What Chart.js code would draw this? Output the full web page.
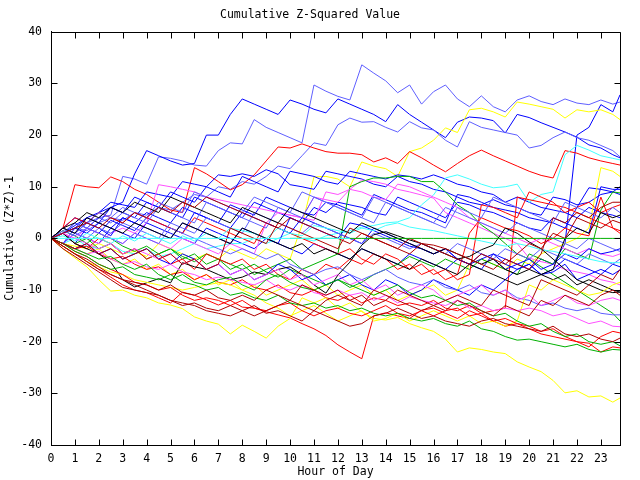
<!DOCTYPE html>
<html>
<head>
<meta charset="utf-8">
<script src="https://cdn.jsdelivr.net/npm/chart.js@4.4.1/dist/chart.umd.min.js"></script>
<style>
  body { margin: 0; background: #fff; }
  canvas { display: block; }
</style>
</head>
<body>
<canvas id="chart" width="640" height="480"></canvas>
<script>
// sample hours (half-hour steps, last one at the right edge)
const hours = [0, 0.5, 1, 1.5, 2, 2.5, 3, 3.5, 4, 4.5, 5, 5.5, 6, 6.5, 7, 7.5, 8, 8.5, 9, 9.5, 10, 10.5, 11, 11.5,
  12, 12.5, 13, 13.5, 14, 14.5, 15, 15.5, 16, 16.5, 17, 17.5, 18, 18.5, 19, 19.5, 20, 20.5, 21, 21.5, 22, 22.5, 23, 23.5, 23.8];
const xTicks = [0, 1, 2, 3, 4, 5, 6, 7, 8, 9, 10, 11, 12, 13, 14, 15, 16, 17, 18, 19, 20, 21, 22, 23];
const yTicks = [-40, -30, -20, -10, 0, 10, 20, 30, 40];

// cumulative (z*z)-1 per run
const cyanFlat = [0, 0, 0, 0, 0, 0, 0, 0,  0, 0, 0, 0, 0, 0, 0, 0,  0, 0, 0, 0, 0, 0, 0, 0,  0, 0, null, null, null, null, null, null,
  null, null, null, null, null, null, null, null,  null, null, null, null, null, null, null, null,  null];
const greenFlat = [null, null, null, null, null, null, null, null,  null, null, null, null, null, null, null, null,
  null, null, null, null, 0, 0, 0, 0,  0, 0, 0, 0, 0, 0, 0, 0,  0, 0, 0, 0, 0, 0, 0, 0,  0, 0, 0, 0, 0, 0, 0, 0,  0];

const darkRed1 = [0, -2, -3.5, -5, -6.5, -8, -9.5, -10,  -10.5, -11, -12, -12.5, -13, -14, -14.5, -15,  -14, -13, -14.5, -14, -15, -16, -14, -15,
  -16, -17, -16.5, -15, -14.5, -13.5, -14.5, -15.5,  -15, -16, -16.5, -17, -16, -15.5, -16.5, -17,  -17.5, -18, -17, -18.5, -19, -18.5, -19.5, -20,  -19.3];
const darkRed2 = [0, -1.5, -3, -4.5, -6, -7, -8, -8.5,  -9, -10, -9, -10.5, -11, -10, -11.5, -12,  -11, -12, -10, -11, -12, -9, -10, -11,
  -10, -12, -11, -13, -12, -10, -11, -12,  -13, -14, -12, -13, -14, -15, -13, -14,  -15, -12, -13, -11, -12, -13, -11, -10,  -11];
const darkRed3 = [0, -1, -2, -1, -3, -2, -4, -3,  -2, -4, -3, -5, -4, -6, -5, 2,  1, 0, -1, 3, 2, 1, 0, -1,
  -2, 2, 1, 0, -1, -2, -3, -1,  -2, -3, -4, -5, -3, -4, -5, -3,  -1, -2, 1, 0, 4, 3, 2, 3.5,  3];
const darkRed4 = [0, -1.5, -3, -4, -5.5, -7, -8, -9,  -10, -11, -12, -13, -12.5, -13.5, -14, -13,  -14, -15, -14, -13, -12, -13, -14, -12,
  -11, -12, -13, -10, -11, -12, -13, -14,  -13, -12, -11, -12, -13, -10, -11, -12,  -13, -8, -9, -10, -11, -9, -7, -8,  -6];
const darkRed5 = [0, 1, 2, 3, 2, 4, 3, 5,  4, 6, 5, 7, 6, 8, 7, 6,  5, 4, 3, 2, 4, 3, 2, 1,
  0, -1, 1, 0, -1, -2, 0, -1,  -1.3, -2, -3, -4, -5, -6, -4, -5,  -6, -3, 4, 3, 5, 4, 6, 7,  7];

const black1 = [0, 1, -1, -2, -3, -4.6, -8, -9.4,  -8.6, -7.8, -8.6, -4.7, -5.5, -6, -7, -8,  -7.5, -6.5, -7, -6, -5.5, -7, -9, -10.6,
  -7.1, -4.6, -1.3, 0.7, 1.3, 0.5, -0.3, -1,  -2, -3, -4, -3.5, -2.2, -1.3, 2, 1,  -0.7, -2, -4, -6, -8, -9, -10, -10.5,  -10.4];
const black2 = [0, 2, 1, 4, 3, 2, 1, 3,  2, 1, 0, 3, 2, 1, 0, -1,  2, 1, 0, -1, -2, -1, -3, -2,
  -3, -4, -2, -3, -4, -5, -6, -4,  -5, -6, -7, -5, -6, -7, -8, -9,  -8, -7, -6, 0, 2, 1, 5, 4,  4.5];
const black3 = [0, 2, 3, 5, 4, 6, 5, 7,  6, 5, 8, 7, 6, 5, 4, 3,  6, 5, 4, 3, 6, 5, 4, 3,
  2, 1, 3, 2, 1, 0, -1, -2,  -3, -2, -3, -4, -5, -4, -6, -7,  -6, -7, -8, -7, -9, -8, -9, -10,  -10.4];

const green1 = [0, -1, -2.5, -3.5, -5, -6, -5.5, -7,  -7.5, -8, -7, -8.5, -9, -10, -9.5, -11,  -10.5, -11.5, -12, -11, -12.5, -13, -12.5, -13.5,
  -13, -14, -13.5, -14.5, -15, -14.5, -15.5, -16,  -15.5, -16.5, -17, -16, -17.5, -18, -19, -19.7,  -19.5, -20, -20.5, -21, -20.5, -21.5, -22, -21.5,  -21.6];
const green2 = [0, 1, -1, 0, -2, -1, -3, -2,  -4, -3, -2, -4, -3, -5, -4, -6,  -5, -7, -6, -5, -4, -6, -5, -4,
  -3, 10, 11, 11.7, 11.7, 12, 12, 11,  11, 9, 6.5, 5, 2.6, 1, -1, -3,  -4, -5.5, -7, -8.5, -10, -11.5, -13, -14.5,  -16];
const green3 = [0, 1.5, 0.5, -1, 1, 0, -1.5, -2.5,  -1.5, -3, -2, -3.5, -4.5, -3, -4, -5,  -6, -5, -6.5, -7.5, -6, -7, -8, -9,
  -8, -9.5, -8.5, -7, -6, -5, -3.5, -4.5,  -5.5, -4, -5, -6, -4, -5, -6, -7,  -3, -4, -5, -2, -3, -4, 5.5, 9,  8.8];
const green4 = [0, -1, -2, -3, -4, -3.5, -5, -6,  -5, -7, -8, -7, -8.5, -9, -8, -7.5,  -9, -10, -8, -7, -8.5, -9.5, -10, -9,
  -8, -9, -10, -11, -10, -9, -10.5, -11.5,  -11, -12, -13, -12.5, -14, -15, -14.5, -16,  -17, -16.5, -18, -19, -18.5, -20, -20.5, -20,  -20.8];

const cyan1 = [0, -1, 0, -1.5, -2, -1, -2.5, -3,  -2, -3.5, -3, -2, -1, -2, -1.5, -1,  -1, 0, -1, 0, 1, 0, -0.5, 0.5,
  1, 1.5, 2.2, 2.5, 3, 3.2, 4, 6.5,  8.4, 11.7, 12.3, 11.5, 10.5, 9.8, 10, 10.5,  7, 8.5, 9, 16.2, 18, 17.1, 16, 15.5,  15.2];
const cyan2 = [0, 0.5, -0.5, 1, 0, -1, 0.5, -0.5,  1, 0, -1, 0.5, -0.5, 1, 0, 2,  1.5, 1, 0, 2, 1, 0.5, 2.5, 2,
  1.5, 1, 2, 1.5, 2.5, 3, 2.2, 1.8,  1.5, 1, 0.5, 0, -0.5, -1, -1.5, -1,  -1.5, -2.2, -2.5, -3, -3.5, -4, -4.5, -4.7,  -4.7];

const magenta1 = [0, -1, 1, 0, -1, 1, 2, 1,  3, 10.4, 10, 9.5, 9, 8, 7.5, 7,  6.5, 6, 5.5, 5, 4.5, 4, 8, 7.5,
  7, 9.5, 11.3, 11, 10.5, 9.5, 9, 8.4,  7.8, 5, 4, 3, 2, 1, 0, -1,  -3.8, -4.5, -5, -6, -6.5, -7, -8, -8.5,  -9];
const magenta2 = [0, -1, -2, -3, -2.5, -4, -5, -4.5,  -5.5, -6, -5, -6.5, -7, -8, -7.5, -8,  -8.5, -9, -8, -9.5, -10, -9, -10.5, -11,
  -10, -11, -10.5, -12, -11, -12.5, -11.3, -12,  -12.5, -13, -12, -13.5, -13, -14, -13.5, -14,  -13.5, -14, -15, -14.5, -15.5, -16.5, -16, -17,  -17.1];
const magenta3 = [0, 1, 0, 2, 1, 0, -1, 1,  0, -1, -2, 0, -1, -2, -3, -1,  -2, -3, 3, 5, 4.5, 4, 3.5, 9,
  8.5, 9.5, 9, 8, 7.5, 10.5, 10, 9,  8, 7, 6, 4, 3, 2, 1, 0,  -1, 0, -1, -2, -3, -2, -3, -3.5,  -3];
const magenta4 = [0, 1, 0, -1, -2, -1, -3, -2,  -3, -4, -3, -5, -4, -6, -5, -7,  -6, -8, -7, -6, -8, -7, -9, -8,
  -7, -9, -8, -10, -9, -11, -10, -9,  -10, -12, -11, -10, -9, -11, -10, -12,  -11, -13, -12, -11, -12.5, -13, -12, -11.5,  -12];

const yellow1 = [0, -1, -1.5, -2, -1, -2, -3, -2.5,  -3.5, -1, -2, -3, -4, -3, -4, -2,  -3, -4, -2, -3, -4, 2.6, 11.9, 12,
  11.5, 10, 14.8, 14, 13.5, 12, 16.8, 17.5,  19, 21.4, 20.5, 24.9, 25.2, 24.5, 23.5, 26.4,  26, 25.5, 25, 23.3, 24.9, 24.5, 24.9, 24,  23];
const yellow2 = [0, -1, -2, -3, -2, -4, -5, -4,  -6, -5, -7, -6, -8, -7, -9, -8,  -10, -9, -11, -10, -9, -8, -10, -9,
  -11, -10, -9, -11, -10, -12, -11, -10,  -9, -11, -10, -5, -4, -5, -6, -4,  -5, -3, -2, -1, 0, 2, 13.7, 13,  12];
const yellow3 = [0, -1.5, -3, -4.5, -5.5, -6.5, -7, -8,  -8.5, -9, -9.5, -10, -9.5, -9, -8.6, -9,  -10, -11, -12.5, -13.5, -15, -14, -13, -14.5,
  -16, -15, -14, -16, -15.5, -14.5, -16, -15,  -14, -15, -16, -15, -16.5, -16, -17, -16,  -9, -10, -8, -9, -10, -11, -10.5, -9,  -8.5];
const yellow4 = [0, -2, -3.8, -5.5, -8, -10.2, -10, -11,  -11.5, -12.5, -12.9, -13.6, -15.2, -16, -16.6, -18.5,  -16.8, -18, -19.3, -17, -15.5, -11.5, -12.5, -11.5,
  -13.5, -12.5, -14.2, -15.5, -15.8, -15.3, -16.5, -17.3,  -18, -19.5, -22, -21.2, -21.5, -22, -22.3, -23.9,  -24.9, -25.8, -27.5, -29.9, -29.5, -30.7, -30.5, -31.7,  -30.9];

const red1 = [0, 2, 10.4, 10, 9.8, 11.9, 11, 9.5,  8.5, 7, 5.5, 5, 13.7, 12.5, 11, 9.4,  10.4, 12.3, 15, 17.7, 17.5, 18.3, 17.5, 16.8,
  16.5, 16.5, 16.2, 14.8, 15.6, 14.5, 16.8, 15.6,  14.2, 12.9, 14.5, 16, 17.1, 16, 15, 14,  13, 12.2, 11.7, 17, 16.5, 15.6, 15, 14.5,  14.2];
const red2 = [0, 1, -1, -2, 0, -1, -3, -2,  -4, -3, -5, -4, -6, -3, -4, -5,  -4, -6, -5, -7, -8, -6, -7, -5,
  -6, -4, -5, -3, -4, -6, -5, -7,  -6, -8, -7, 1, 4, 3, 2, 1.5,  0.5, -1, 0, 2, 1, 0.5, 8, 2,  1];
const red3 = [0, -1, -2, -1.5, -3, -4, -3.5, -5,  -6, -5.5, -7, -6.5, -8, -7, -8.5, -9,  -8, -9.5, -10, -9, -10.5, -11, -10, -11.5,
  -12, -11, -12.5, -11.5, -12, -13, -12.5, -13,  -12, -13.5, -14, -13, -14.5, -14, -13.5, 8,  7.5, 7, 6.5, 6, 5, 4, 3, 2,  1.5];
const red4 = [0, 2, 4, 3, 5, 4, 3, 5,  4, 3, 2, 1, 4, 3, 2, 1,  0, -1, 3, 2, 1, 0, -1, -2,
  -3, -2, -4, -5, -3, -4, -6, -5,  -7, -6, -8, -7, 6.5, 6, 5, 4,  9, 8, 7, 5, 6, 7, 5, 6,  6.5];
const red5 = [0, -1, -2.5, -3.5, -5, -6, -7, -8.5,  -9, -10, -9.5, -11, -12, -11.5, -12, -13,  -12, -13.5, -14, -13, -12.5, -14, -15, -14,
  -13.5, -14.5, -15, -14, -13, -14.5, -15, -14,  -15, -14, -13.5, -15, -14.5, -16, -15.5, -16.5,  -17, -18, -17.5, -19, -20, -21, -19, -18,  -18.3];
const redDip = [0, -1.5, -3, -4.5, -6, -7.5, -9, -10,  -10.5, -11.5, -12.5, -10.4, -11, -11.9, -12.9, -12,  -13.3, -13.5, -14.2, -14.8, -15.4, -16.5, -17.5, -18.8,
  -20.6, -22, -23.3, -15, -14.4, -15, -15.5, -13.9,  -13.5, -14.5, -15.5, -14, -15, -16, -17, -16.5,  -17.5, -18.5, -19, -19.5, -20, -20.3, -22, -21,  -21.2];

const blue1 = [0, 1, 2.5, 4, 5, 6, 7, 12.5,  17, 16, 15, 14.2, 14.5, 20, 20, 24,  27, 26, 25, 24, 26.8, 26, 25, 24.3,
  27, 26, 25, 24, 22.6, 25.9, 24, 22.5,  21, 19.5, 22.5, 23.5, 23.3, 22.8, 20.4, 24,  23.4, 22.4, 21.5, 20.6, 19.6, 18.1, 17.5, 16.2,  15.6];
const blue2 = [0, -1, 1, 0, -1, 2, 1, 0,  3, 2, 1, 0, -1, 2, 1, 0,  -1, -2, 0, -1, -2, -3, -1, -2,
  -3, -4, -2, -3, -4, -5, -3, -4,  -5, -6, -4, -5, -6, -3, -4, -5,  -6, -4, -5, -1, 20, 21.5, 25.9, 24.5,  27.8];
const blue3 = [0, 2, 4, 3, 5, 7, 6.5, 6,  9, 8.5, 8, 11, 10.5, 10, 12.3, 12,  12.5, 12, 13.3, 12.5, 10.4, 10, 9.5, 13,
  12.5, 12, 11.5, 10.5, 10, 12, 11, 10.5,  9.5, 9, 8, 7, 6.5, 7.5, 6.5, 6,  5, 4.5, 8, 7.5, 6.5, 7, 8.5, 9,  8.5];
const blue4 = [0, 1, -1, 2, 1, 3.5, 2.5, 1.5,  4, 3, 2, 1, 5, 4, 3, 6.5,  5.5, 4.5, 8, 7, 6, 5, 4.5, 7,
  6.5, 5.5, 4.5, 8.5, 7.5, 6.5, 5.5, 5,  4, 3, 8.5, 8, 7, 6, 5.5, 5,  4, 3.5, 3, 2, 6, 9.8, 9.5, 9,  10];
const blue5 = [0, 2, 1, 3, 2, 0.5, 4, 3,  2, 1, 0, 3, 2, 1, 0, -1,  2, 1, 0, -1, 4, 3, 2, 1,
  0, 3, 2.5, 1.5, 0.5, -0.5, -1.5, -2,  -3, -2, -4, -5, -4, -3, -5, -6,  -5, -7, -6.5, -5, -8, -7, -6, -7,  -6.1];
const blue6 = [0, -1, -2, -1, -3, -2, -4, -3,  -2, -4, -5, -3, -4, -6, -5, -7,  -6, -8, -7, -5, -6, -8, -7, -9,
  -8, -7, -9, -10, -8, -9, -11, -10,  -8, -9, -10, -11, -9, -10, -8, -6,  -5, -7, -6, -4, -5, -6, -7, -5,  -5.5];
const blue7 = [0, 1, 2, 1, 3, 2, 4, 3,  5, 4, 3, 6, 5, 4, 3, 2,  5, 4, 3, 2, 1, 4, 3, 2,
  1, 0, -1, 2, 1, 0, -1, -2,  -3, -2, -4, -5, -3, -4, -6, -5,  -4, -6, -5, -3, -4, -2, -3, -2.5,  -2];
const blue8 = [0, 1, 3, 2, 4, 6, 5, 8,  7, 6, 9, 8, 7, 10, 9, 8,  12, 11, 10, 9, 13, 12.5, 12, 11,
  10.5, 13, 12.5, 12, 11.5, 12.3, 12, 11.5,  12.3, 11.5, 10.5, 10, 9, 8.5, 7, 8,  7, 6, 5.5, 5, 4, 6, 5, 4.5,  4];
const blue9 = [0, -1, 2, 4, 3, 6, 5, 4,  7, 6, 5, 4, 8, 7, 6, 5,  4, 7, 6, 5, 4, 3, 6, 5,
  7, 6.5, 6, 5, 4.5, 8, 7, 6,  5, 4, 7, 6.5, 5.5, 5, 4, 3,  2, 1.5, 4, 3, 2, 1, 10, 9.5,  9.5];

const lightBlue1 = [0, 1, 2, 3, 4, 4.5, 12, 11.5,  10.5, 15.8, 15.5, 15, 14.2, 14, 17, 18.5,  18.3, 23, 21.5, 20.5, 19.5, 18.5, 29.7, 28.5,
  27.5, 26.8, 33.6, 32, 30.5, 28.2, 29.7, 26,  28.4, 29.7, 27, 25.5, 27.6, 25.5, 24.5, 26.8,  27.6, 26.5, 25.9, 27, 26.2, 25.9, 26.8, 26,  26.4];
const lightBlue2 = [0, 1, 2, 1.5, 3, 4, 3.5, 5,  4.5, 6, 5.5, 7, 8.5, 8, 10, 9.5,  11, 10.5, 12, 14, 13.5, 16, 18.5, 18,
  22, 23.3, 22.5, 22.6, 21.5, 20.6, 22.6, 21.4,  21, 19, 17.7, 22.6, 21.5, 21, 20.5, 20,  17.5, 18, 19.5, 20.6, 19.5, 19, 18, 17,  15.8];
const lightBlue3 = [0, 1.5, 0.5, 2, 1, 0, -1, 1,  0, -1, 2, 1, 0, -1, -2, -3,  -2, -3, -4, -3, -5, -6, -7, -6,
  -5.5, -7, -8, -7, -6, -7.5, -8.5, -9,  -8, -9.5, -10, -9, -10.5, -11, -10, -11.5,  -12, -13, -12.5, -13.5, -14, -13.5, -14.5, -14.8,  -14.8];
const lightBlue4 = [0, -1, 1, 0, 2, 1, 3, 2,  1, 0, 3, 2, 1, 4, 3, 2,  1, 5, 4, 3, 2, 1, 3, 2,
  1, 0, -1, 1, 0, -1, -2, -1,  -2, -3, -1, -2, -3, -4, -2, -3,  -4, -2, -3, -4, -5, -3, -4, -5,  -4];
const lightBlue5 = [0, 1, 3, 2, 4, 3, 5, 4,  3, 6, 5, 4, 3, 7, 6, 5,  4, 3, 2, 6, 5, 4, 8, 7,
  6, 5, 4, 3, 7, 6, 5, 4,  3, 2, 6, 5, 4, 8, 7, 6,  5, 4, 3, 7, 6, 5, 4, 6,  5];
const lightBlue6 = [0, 2, 1, 3, 5, 4, 6, 5,  4, 7, 6, 5, 9, 8, 7, 6,  5, 8, 7, 6, 5, 9, 8, 7,
  6, 5, 4, 8, 7, 6, 5, 4,  3, 6, 5, 4, 3, 2, 1, 3,  2, 1, 0, -1, -2, 0, -1, -2,  -2.5];

const RED = '#ff0000', DARKRED = '#b00000', GREEN = '#00b000', BLUE = '#0000ff', LIGHTBLUE = '#5f5fff',
  MAGENTA = '#ff50ff', CYAN = '#40ffff', YELLOW = '#ffff00', BLACK = '#000000';

const runs = [
  [cyanFlat, CYAN], [greenFlat, GREEN],
  [darkRed1, DARKRED], [darkRed2, DARKRED], [darkRed3, DARKRED], [darkRed4, DARKRED], [darkRed5, DARKRED],
  [green1, GREEN], [green4, GREEN], [magenta2, MAGENTA], [magenta4, MAGENTA], [red5, RED],
  [yellow3, YELLOW], [yellow4, YELLOW], [redDip, RED],
  [black1, BLACK], [black2, BLACK], [black3, BLACK],
  [cyan2, CYAN], [lightBlue3, LIGHTBLUE], [lightBlue4, LIGHTBLUE], [lightBlue5, LIGHTBLUE], [lightBlue6, LIGHTBLUE],
  [blue5, BLUE], [blue6, BLUE], [blue7, BLUE], [magenta3, MAGENTA], [red2, RED], [red3, RED], [red4, RED],
  [green2, GREEN], [green3, GREEN], [yellow2, YELLOW], [magenta1, MAGENTA], [cyan1, CYAN],
  [blue8, BLUE], [blue9, BLUE], [blue3, BLUE], [blue4, BLUE], [red1, RED], [lightBlue2, LIGHTBLUE], [yellow1, YELLOW],
  [blue2, BLUE], [blue1, BLUE], [lightBlue1, LIGHTBLUE]
];

const FONT = { family: 'DejaVu Sans Mono', size: 11.5, weight: 'normal' };

// frame with inward ticks on all four sides, like the original plot
const framePlugin = {
  id: 'frame',
  afterDraw(chart) {
    const ctx = chart.ctx;
    const a = chart.chartArea;
    const L = Math.round(a.left) + 0.5, R = Math.round(a.right) + 0.5;
    const T = Math.round(a.top) + 0.5, B = Math.round(a.bottom) + 0.5;
    ctx.save();
    ctx.strokeStyle = '#000';
    ctx.lineWidth = 1;
    ctx.beginPath();
    ctx.rect(L, T, R - L, B - T);
    xTicks.forEach(v => {
      const x = Math.round(chart.scales.x.getPixelForValue(v)) + 0.5;
      ctx.moveTo(x, B); ctx.lineTo(x, B - 6);
      ctx.moveTo(x, T); ctx.lineTo(x, T + 6);
    });
    yTicks.forEach(v => {
      const y = Math.round(chart.scales.y.getPixelForValue(v)) + 0.5;
      ctx.moveTo(L, y); ctx.lineTo(L + 6, y);
      ctx.moveTo(R, y); ctx.lineTo(R - 6, y);
    });
    ctx.stroke();
    ctx.restore();
  }
};

new Chart(document.getElementById('chart'), {
  type: 'line',
  data: {
    datasets: runs.map(([vals, color]) => ({
      data: hours.map((h, i) => ({ x: h, y: vals[i] })),
      borderColor: color,
      borderWidth: 1,
      pointRadius: 0,
      tension: 0,
      fill: false
    }))
  },
  options: {
    responsive: false,
    animation: false,
    devicePixelRatio: 1,
    layout: { padding: { left: 0, right: 20, top: 0, bottom: 0 } },
    plugins: {
      legend: { display: false },
      tooltip: { enabled: false },
      title: {
        display: true,
        text: 'Cumulative Z-Squared Value',
        color: '#000',
        font: FONT,
        padding: { top: 8, bottom: 10 }
      }
    },
    scales: {
      x: {
        type: 'linear',
        min: 0,
        max: 23.8,
        grid: { display: false, drawTicks: false },
        border: { display: true, color: '#000' },
        afterBuildTicks: s => { s.ticks = xTicks.map(v => ({ value: v })); },
        afterFit: s => { s.height = 35; },
        ticks: { color: '#000', font: FONT, padding: 7, maxRotation: 0, autoSkip: false },
        title: { display: true, text: 'Hour of Day', color: '#000', font: FONT, padding: { top: 0, bottom: 1 } }
      },
      y: {
        min: -40,
        max: 40,
        grid: { display: false, drawTicks: false },
        border: { display: true, color: '#000' },
        afterBuildTicks: s => { s.ticks = yTicks.map(v => ({ value: v })); },
        afterFit: s => { s.width = 51; },
        ticks: { color: '#000', font: FONT, padding: 9 },
        title: { display: true, text: 'Cumulative (Z*Z)-1', color: '#000', font: FONT, padding: { top: 3, bottom: 0 } }
      }
    }
  },
  plugins: [framePlugin]
});
</script>
</body>
</html>
